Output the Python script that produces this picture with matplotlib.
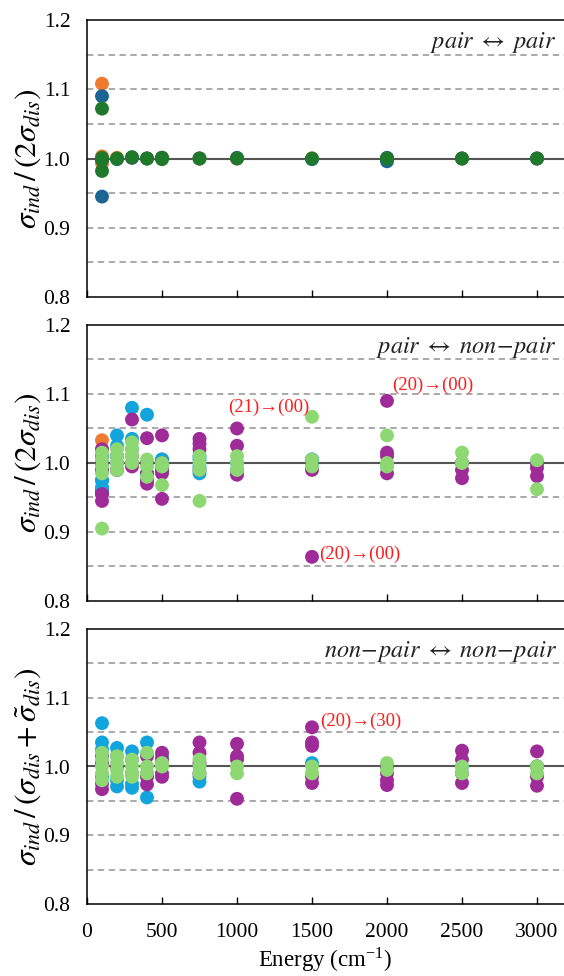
import matplotlib
matplotlib.use("Agg")
import matplotlib.pyplot as plt

plt.rcParams['font.family'] = ['Liberation Serif', 'DejaVu Serif']
plt.rcParams['mathtext.fontset'] = 'stix'

# ---------------- data ----------------
# panel 1: pair <-> pair
p1_orange_x = [100, 100, 100, 100, 200, 300, 400, 500, 750, 1000, 1500, 2000, 2500, 3000]
p1_orange_y = [1.108, 1.003, 0.997, 0.993, 1.001, 1.001, 1.0, 1.001, 1.0, 1.0, 1.0, 1.0, 1.0, 1.0]
p1_blue_x = [100, 100, 100, 200, 300, 400, 500, 750, 1000, 1500, 2000, 2000, 2500, 3000]
p1_blue_y = [1.090, 0.998, 0.945, 0.999, 1.001, 1.0, 1.001, 1.0, 1.001, 0.999, 0.996, 1.001, 1.0, 1.0]
p1_green_x = [100, 100, 100, 100, 200, 300, 400, 500, 500, 750, 1000, 1500, 2000, 2500, 3000]
p1_green_y = [1.072, 1.001, 0.998, 0.982, 1.0, 1.002, 1.0, 1.001, 0.999, 1.0, 1.0, 1.0, 1.0, 1.0, 1.0]

# panel 2: pair <-> non-pair
p2_orange_x = [100, 100, 100]
p2_orange_y = [1.033, 1.02, 1.01]
p2_blue_x = [100, 100, 100, 500, 1500]
p2_blue_y = [0.955, 0.96, 0.975, 1.005, 1.005]
p2_lblue_x = [100, 100, 100, 100, 100, 200, 200, 200, 200, 200, 300, 300, 300, 300,
              400, 400, 400, 500, 500, 500, 750, 750, 750, 750, 1000, 1000,
              1500, 1500, 2000, 2500, 3000]
p2_lblue_y = [0.965, 0.975, 0.99, 1.0, 1.01, 1.04, 1.025, 1.01, 1.0, 0.99, 1.08, 1.035, 1.02, 1.0,
              1.07, 0.975, 0.985, 1.005, 0.995, 0.99, 1.01, 1.005, 0.995, 0.985, 1.0, 0.99,
              1.005, 0.995, 0.995, 1.0, 1.0]
p2_purple_x = [100, 100, 100, 100, 100, 200, 200, 300, 300, 300,
               400, 400, 400, 400, 400, 500, 500, 500, 500, 500,
               750, 750, 750, 750, 1000, 1000, 1000, 1500, 1500,
               2000, 2000, 2000, 2000, 2500, 2500, 2500, 3000, 3000, 3000]
p2_purple_y = [1.02, 1.0, 0.99, 0.955, 0.945, 1.01, 0.99, 1.063, 1.01, 0.995,
               1.036, 1.0, 0.985, 0.975, 0.97, 1.04, 1.0, 0.99, 0.985, 0.948,
               1.035, 1.028, 1.02, 0.99, 1.05, 1.025, 0.983, 0.99, 0.864,
               1.09, 1.015, 1.01, 0.985, 1.0, 0.99, 0.978, 1.0, 0.993, 0.981]
p2_green_x = [100, 100, 100, 100, 100, 200, 200, 200, 200, 300, 300, 300, 300,
              400, 400, 400, 500, 500, 500, 750, 750, 750, 750, 1000, 1000, 1000,
              1500, 1500, 1500, 2000, 2000, 2000, 2500, 2500, 3000, 3000]
p2_green_y = [1.015, 1.005, 0.995, 0.985, 0.905, 1.02, 1.01, 1.0, 0.99, 1.03, 1.02, 1.01, 1.0,
              1.005, 0.995, 0.98, 1.0, 0.995, 0.968, 1.01, 1.0, 0.99, 0.945, 1.01, 1.0, 0.99,
              1.067, 1.005, 0.995, 1.04, 1.0, 0.995, 1.015, 1.0, 1.004, 0.962]

# panel 3: non-pair <-> non-pair
p3_lblue_x = [100, 100, 100, 100, 200, 200, 200, 200, 300, 300, 300, 300,
              400, 400, 400, 500, 750, 750, 1500, 2000, 2500, 3000]
p3_lblue_y = [1.063, 1.035, 1.025, 0.985, 1.027, 1.015, 0.98, 0.971, 1.022, 1.01, 0.975, 0.969,
              1.035, 0.955, 0.99, 1.015, 0.978, 0.985, 1.005, 1.0, 1.0, 1.0]
p3_purple_x = [100, 100, 100, 100, 200, 300, 400, 400, 400, 500, 500, 500, 500,
               750, 750, 750, 750, 1000, 1000, 1000, 1000, 1500, 1500, 1500, 1500, 1500,
               2000, 2000, 2000, 2000, 2500, 2500, 2500, 2500, 3000, 3000, 3000, 3000]
p3_purple_y = [1.015, 1.005, 0.975, 0.967, 1.0, 0.99, 1.015, 0.985, 0.974, 1.02, 1.01, 0.99, 0.985,
               1.035, 1.02, 1.005, 0.99, 1.033, 1.015, 1.01, 0.953, 1.057, 1.035, 1.03, 0.985, 0.976,
               1.0, 0.99, 0.98, 0.973, 1.023, 1.01, 0.99, 0.976, 1.022, 1.0, 0.985, 0.972]
p3_green_x = [100, 100, 100, 100, 100, 200, 200, 200, 200, 300, 300, 300, 300,
              400, 400, 400, 500, 500, 750, 750, 750, 1000, 1000, 1500, 1500,
              2000, 2000, 2500, 2500, 3000, 3000]
p3_green_y = [1.02, 1.01, 1.0, 0.99, 0.98, 1.015, 1.005, 0.995, 0.985, 1.01, 1.0, 0.99, 0.985,
              1.02, 1.0, 0.99, 1.005, 1.0, 1.01, 1.0, 0.99, 1.0, 0.99, 1.0, 0.99,
              1.005, 0.995, 1.0, 0.99, 1.0, 0.99]

x_ticks = [0, 500, 1000, 1500, 2000, 2500, 3000]
y_ticks = [0.8, 0.9, 1.0, 1.1, 1.2]
y_dashed = [0.85, 0.9, 0.95, 1.05, 1.1, 1.15]

c_orange = '#F07A30'
c_blue = '#1C6592'
c_dgreen = '#1E7A2A'
c_lblue = '#12A4DC'
c_purple = '#9E2B97'
c_lgreen = '#8ED873'

panel_titles = [r'$pair\ \leftrightarrow\ pair$',
                r'$pair\ \leftrightarrow\ non\!-\!pair$',
                r'$non\!-\!pair\ \leftrightarrow\ non\!-\!pair$']
y_labels = [r'$\sigma_{ind}\,/\,(2\sigma_{dis})$',
            r'$\sigma_{ind}\,/\,(2\sigma_{dis})$',
            r'$\sigma_{ind}\,/\,(\sigma_{dis}+\tilde{\sigma}_{dis})$']

annotations = [
    (1, 1480, 1.080, '(21)→(00)', 'right'),
    (1, 2033, 1.113, '(20)→(00)', 'left'),
    (1, 1547, 0.867, '(20)→(00)', 'left'),
    (2, 1553, 1.065, '(20)→(30)', 'left'),
]

series = [
    [(p1_orange_x, p1_orange_y, c_orange), (p1_blue_x, p1_blue_y, c_blue), (p1_green_x, p1_green_y, c_dgreen)],
    [(p2_orange_x, p2_orange_y, c_orange), (p2_blue_x, p2_blue_y, c_blue), (p2_lblue_x, p2_lblue_y, c_lblue),
     (p2_purple_x, p2_purple_y, c_purple), (p2_green_x, p2_green_y, c_lgreen)],
    [(p3_lblue_x, p3_lblue_y, c_lblue), (p3_purple_x, p3_purple_y, c_purple), (p3_green_x, p3_green_y, c_lgreen)],
]

# ---------------- figure ----------------
fig = plt.figure(figsize=(5.64, 9.76), dpi=100)
W, H = 564, 976
panels_px = [(20, 297), (325, 601), (629, 904)]
axes = []
for (top, bot) in panels_px:
    ax = fig.add_axes([87 / W, 1 - bot / H, 1 - 87 / W, (bot - top) / H])
    axes.append(ax)

for i, ax in enumerate(axes):
    ax.set_xlim(0, 3180)
    ax.set_ylim(0.8, 1.2)
    for yv in y_dashed:
        ax.axhline(yv, color='#A3A3A3', lw=1.3, ls=(0, (3.5, 2.5)), zorder=1)
    ax.axhline(1.0, color='#555555', lw=1.5, zorder=1)
    for (xs, ys, c) in series[i]:
        ax.scatter(xs, ys, s=100, color=c, edgecolors='none', zorder=3)
    ax.set_xticks(x_ticks)
    ax.set_yticks(y_ticks)
    ax.set_yticklabels([f'{v:.1f}' for v in y_ticks])
    ax.tick_params(direction='in', length=5, width=1, labelsize=15.5, colors='black', pad=14)
    ax.tick_params(axis='y', length=0, pad=12)
    if i < 2:
        ax.set_xticklabels([])
    ax.spines['right'].set_visible(False)
    for s in ['left', 'top', 'bottom']:
        ax.spines[s].set_linewidth(1.1)
    ax.set_ylabel(y_labels[i], fontsize=22.5, labelpad=0)
    ax.text(0.985, 0.92, panel_titles[i], transform=ax.transAxes, ha='right', va='center',
            fontsize=17.5, color='#222222')

for (pi, x, y, t, ha) in annotations:
    axes[pi].text(x, y, t, color='#FF1A1A', fontsize=13.5, ha=ha, va='center', zorder=4)

axes[2].set_xlabel('Energy (cm$^{\\mathregular{-1}}$)', fontsize=16.5, labelpad=2)

fig.savefig('out.png', dpi=100)
